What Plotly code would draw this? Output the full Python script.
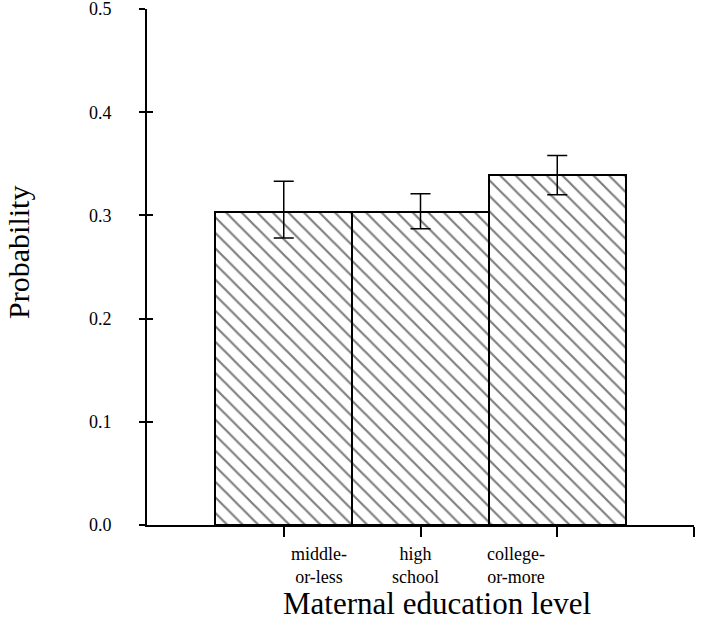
import plotly.graph_objects as go

# Dados
categorias = ["middle-<br>or-less", "high<br>school", "college-<br>or-more"]
posicoes = [1, 2, 3]
probabilidade = [0.303, 0.303, 0.339]
erro_sup = [0.333, 0.321, 0.358]
erro_inf = [0.278, 0.287, 0.320]
y_ticks = [0.0, 0.1, 0.2, 0.3, 0.4, 0.5]

# deslocamento dos rótulos (como no original, não centrados)
label_shift = [0.26, -0.04, -0.30]

FONTE = "Liberation Serif, Times New Roman, serif"

fig = go.Figure()

fig.add_trace(go.Bar(
    x=posicoes,
    y=probabilidade,
    width=1.0,
    marker=dict(
        color="white",
        line=dict(color="black", width=2),
        pattern=dict(shape="\\", fgcolor="black", bgcolor="white",
                     size=11, solidity=0.2, fillmode="overlay"),
    ),
    error_y=dict(
        type="data",
        symmetric=False,
        array=[s - p for s, p in zip(erro_sup, probabilidade)],
        arrayminus=[p - i for p, i in zip(probabilidade, erro_inf)],
        color="black",
        thickness=1.5,
        width=10,
    ),
    showlegend=False,
))

# eixo auxiliar só para os ticks cruzando o eixo
fig.add_trace(go.Scatter(x=[None], y=[None], xaxis="x2", yaxis="y2", showlegend=False))

for pos, cat, desl in zip(posicoes, categorias, label_shift):
    fig.add_annotation(
        x=pos + desl, y=-0.032, xref="x", yref="paper",
        text=cat, showarrow=False, yanchor="top",
        font=dict(family=FONTE, size=18, color="black"),
    )

# títulos dos eixos (fora do centro, como no original)
fig.add_annotation(
    x=0.53, y=-0.152, xref="paper", yref="paper",
    text="Maternal education level", showarrow=False,
    xanchor="center", yanchor="middle",
    font=dict(family=FONTE, size=31, color="black"),
)
fig.add_annotation(
    x=-0.236, y=0.529, xref="paper", yref="paper",
    text="Probability", showarrow=False, textangle=-90,
    xanchor="center", yanchor="middle",
    font=dict(family=FONTE, size=30, color="black"),
)

fig.update_layout(
    width=701, height=621,
    paper_bgcolor="white", plot_bgcolor="white",
    margin=dict(l=147, r=7, t=9, b=96, autoexpand=False),
    font=dict(family=FONTE, color="black"),
    bargap=0,
    xaxis=dict(
        range=[0, 4], showgrid=False, zeroline=False, automargin=False,
        showline=True, linecolor="black", linewidth=2,
        tickvals=[1, 2, 3, 4], ticktext=["", "", "", ""],
        ticks="outside", ticklen=10, tickwidth=2, tickcolor="black",
    ),
    yaxis=dict(
        range=[0, 0.5], showgrid=False, zeroline=False, automargin=False,
        showline=True, linecolor="black", linewidth=2,
        tickvals=y_ticks, tickformat=".1f", ticklabeloverflow="allow",
        ticks="outside", ticklen=6, tickwidth=2, tickcolor="black",
        ticklabelstandoff=24,
        tickfont=dict(family=FONTE, size=18, color="black"),
    ),
    xaxis2=dict(
        overlaying="x", range=[0, 4], showgrid=False, zeroline=False,
        tickvals=[4], showticklabels=False, automargin=False,
        ticks="inside", ticklen=12, tickwidth=2, tickcolor="black",
        anchor="y2", side="bottom",
    ),
    yaxis2=dict(
        overlaying="y", range=[0, 0.5], showgrid=False, zeroline=False,
        tickvals=y_ticks, showticklabels=False, automargin=False,
        ticks="inside", ticklen=6, tickwidth=2, tickcolor="black",
        anchor="x2", side="left",
    ),
)

# remove a margem padrão do <body> para alinhar com a imagem original
fig.write_html("out.html", config={"displayModeBar": False},
               post_script="document.body.style.margin='0';")
